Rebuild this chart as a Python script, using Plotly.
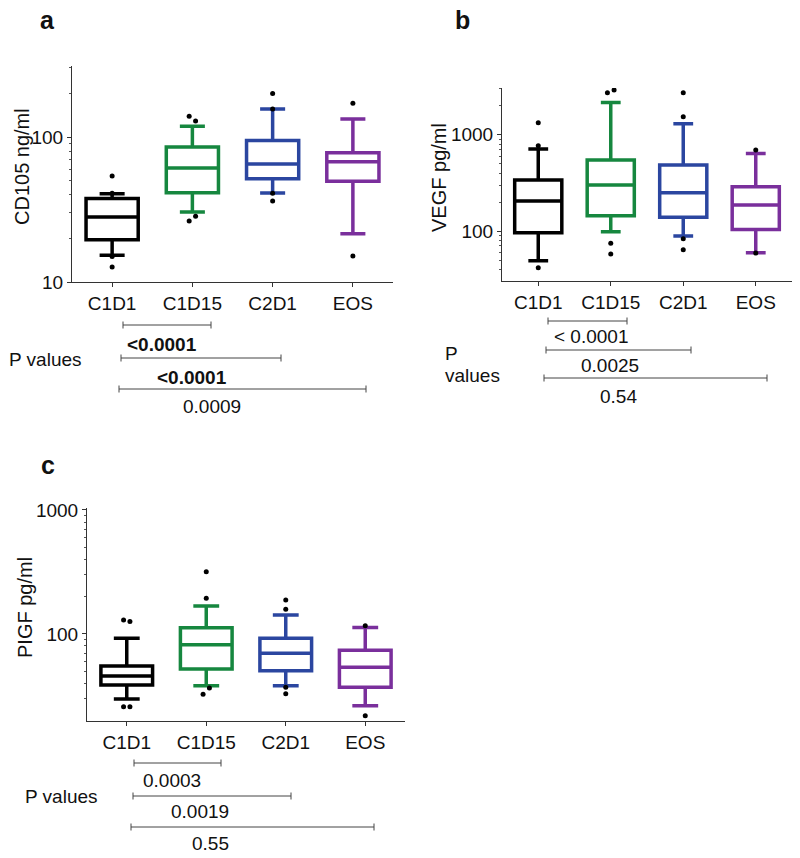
import plotly.graph_objects as go

W, H = 800, 858

groups = ["C1D1", "C1D15", "C2D1", "EOS"]
colors = ["#000000", "#16873f", "#2b46a0", "#7a2f9c"]

# panel a: CD105 ng/ml
a_q1 = [19.6, 41.3, 51.6, 49.5]
a_med = [28.1, 61.1, 65.2, 67.6]
a_q3 = [37.6, 85.3, 94.8, 78.0]
a_lo = [15.3, 30.4, 41.1, 21.5]
a_hi = [40.6, 118.5, 156.0, 133.0]
a_out_x = [0, 0, 0, 0, 0.96, 1.04, 1.04, 0.96, 2, 2, 2, 2, 3, 3]
a_out_y = [53.8, 41.0, 15.0, 12.7, 139.0, 129.0, 28.4, 26.4, 200.0, 156.0, 41.0, 36.2, 171.0, 15.1]

# panel b: VEGF pg/ml
b_q1 = [96.0, 144.0, 139.0, 104.0]
b_med = [205.0, 300.0, 250.0, 186.0]
b_q3 = [338.0, 546.0, 484.0, 288.0]
b_lo = [49.2, 98.4, 88.8, 59.6]
b_hi = [710.0, 2166.0, 1301.0, 640.0]
b_out_x = [0, 0, 0, 0.954, 1.046, 1, 1, 2, 2, 2, 2, 3, 3]
b_out_y = [1332.0, 769.0, 41.6, 2729.0, 2911.0, 74.5, 57.7, 2729.0, 1538.0, 83.3, 64.0, 693.0, 59.0]

# panel c: PIGF pg/ml
c_q1 = [38.8, 52.2, 50.6, 37.1]
c_med = [45.8, 82.0, 69.8, 53.9]
c_q3 = [55.2, 112.4, 92.3, 73.8]
c_lo = [29.9, 38.3, 38.2, 26.4]
c_hi = [92.3, 168.0, 142.0, 113.0]
c_out_x = [-0.04, 0.04, -0.04, 0.04, 1, 1, 1.04, 0.96, 2, 2, 2, 2, 3, 3]
c_out_y = [129.7, 125.8, 25.9, 25.9, 318.0, 194.0, 36.7, 32.6, 188.0, 158.0, 37.1, 32.9, 116.7, 21.9]

# p values
a_p = ["<0.0001", "<0.0001", "0.0009"]
b_p = ["< 0.0001", "0.0025", "0.54"]
c_p = ["0.0003", "0.0019", "0.55"]


def px(x):
    return x / W


def py(y):
    return 1 - y / H


FONT = "Arial, Liberation Sans, sans-serif"
fig = go.Figure()

panels = [
    dict(q1=a_q1, med=a_med, q3=a_q3, lo=a_lo, hi=a_hi, ox=a_out_x, oy=a_out_y,
         xs="x", ys="y", ww=0.48),
    dict(q1=b_q1, med=b_med, q3=b_q3, lo=b_lo, hi=b_hi, ox=b_out_x, oy=b_out_y,
         xs="x2", ys="y2", ww=0.42),
    dict(q1=c_q1, med=c_med, q3=c_q3, lo=c_lo, hi=c_hi, ox=c_out_x, oy=c_out_y,
         xs="x3", ys="y3", ww=0.5),
]

for p in panels:
    for i, g in enumerate(groups):
        fig.add_trace(go.Box(
            x=[i], q1=[p["q1"][i]], median=[p["med"][i]], q3=[p["q3"][i]],
            lowerfence=[p["lo"][i]], upperfence=[p["hi"][i]],
            width=0.65, whiskerwidth=p["ww"], boxpoints=False,
            line=dict(color=colors[i], width=3.5), fillcolor="rgba(0,0,0,0)",
            xaxis=p["xs"], yaxis=p["ys"], showlegend=False, name=g))
    fig.add_trace(go.Scatter(
        x=p["ox"], y=p["oy"], mode="markers",
        marker=dict(color="black", size=5),
        xaxis=p["xs"], yaxis=p["ys"], showlegend=False))

tickfont = dict(family=FONT, size=19, color="#111")


def xax(x0, x1, anchor):
    return dict(domain=[px(x0), px(x1)], range=[-0.5, 3.5], tickvals=[0, 1, 2, 3],
                ticktext=groups, ticks="outside", ticklen=4, tickcolor="#333",
                showline=True, linecolor="#333", linewidth=1, showgrid=False,
                zeroline=False, tickfont=tickfont, anchor=anchor, fixedrange=True,
                automargin=False)


def yax(y0, y1, rng, major, minor, anchor):
    return dict(domain=[py(y1), py(y0)], type="log", range=rng, tickvals=major,
                ticktext=[str(v) for v in major], ticks="outside", ticklen=4,
                tickcolor="#333", showline=True, linecolor="#333", linewidth=1,
                showgrid=False, zeroline=False, tickfont=tickfont, anchor=anchor,
                automargin=False,
                minor=dict(tickmode="array", tickvals=minor, ticks="outside",
                           ticklen=2, tickcolor="#555"))


minor_a = [20, 30, 40, 50, 60, 70, 80, 90, 200, 300]
minor_b = [40, 50, 60, 70, 80, 90, 200, 300, 400, 500, 600, 700, 800, 900, 2000, 3000]
minor_c = [30, 40, 50, 60, 70, 80, 90, 200, 300, 400, 500, 600, 700, 800, 900]

fig.update_layout(
    width=W, height=H, margin=dict(l=0, r=0, t=0, b=0, autoexpand=False),
    paper_bgcolor="white", plot_bgcolor="white", boxmode="overlay",
    font=dict(family=FONT, size=19, color="#111"),
    xaxis=xax(72, 393, "y"),
    yaxis=yax(66, 282, [1, 2.49], [10, 100], minor_a, "x"),
    xaxis2=xax(502, 792, "y2"),
    yaxis2=yax(88, 281, [1.481, 3.485], [100, 1000], minor_b, "x2"),
    xaxis3=xax(87, 405, "y3"),
    yaxis3=yax(508, 721, [1.298, 3.016], [100, 1000], minor_c, "x3"),
)

ann = []
shapes = []


def text(x, y, s, size=19, bold=False, angle=0, xanchor="center"):
    ann.append(dict(x=px(x), y=py(y), xref="paper", yref="paper", text=s,
                    showarrow=False, textangle=angle, xanchor=xanchor, yanchor="middle",
                    font=dict(family=FONT, size=size, color="#111",
                              weight="bold" if bold else "normal")))


def bar(x0, x1, y):
    shapes.append(dict(type="line", xref="paper", yref="paper", x0=px(x0), x1=px(x1),
                       y0=py(y), y1=py(y), line=dict(color="#444", width=1)))
    for xx in (x0, x1):
        shapes.append(dict(type="line", xref="paper", yref="paper", x0=px(xx), x1=px(xx),
                           y0=py(y - 3.5), y1=py(y + 3.5), line=dict(color="#444", width=1)))


# panel letters
text(47, 20, "a", size=25, bold=True)
text(462, 20, "b", size=25, bold=True)
text(48, 465, "c", size=25, bold=True)

# axis titles
text(22, 167, "CD105 ng/ml", size=20, angle=-90)
text(439, 177, "VEGF pg/ml", size=20, angle=-90)
text(25, 608, "PIGF pg/ml", size=20, angle=-90)

# panel a p values
bar(123, 211, 325)
text(125, 344, a_p[0], bold=True, xanchor="left")
bar(121, 281, 358)
text(192, 377, a_p[1], bold=True)
bar(119, 366, 389)
text(212, 406, a_p[2])
text(7, 359, "P values", xanchor="left")

# panel b p values
bar(548, 627, 321)
text(591, 336, b_p[0])
bar(546, 691, 350)
text(610, 365, b_p[1])
bar(544, 767, 378)
text(618, 396, b_p[2])
text(443, 353, "P", xanchor="left")
text(443, 375, "values", xanchor="left")

# panel c p values
bar(134, 221, 763)
text(172, 780, c_p[0])
bar(133, 291, 796)
text(200, 811, c_p[1])
bar(131, 374, 827)
text(210, 843, c_p[2])
text(23, 796, "P values", xanchor="left")

fig.update_layout(annotations=ann, shapes=shapes)

# the page's default body margin would push the figure off the window
fig.write_html("out.html", config={"displayModeBar": False},
               post_script="document.body.style.margin='0';"
                           "document.body.style.overflow='hidden';")
